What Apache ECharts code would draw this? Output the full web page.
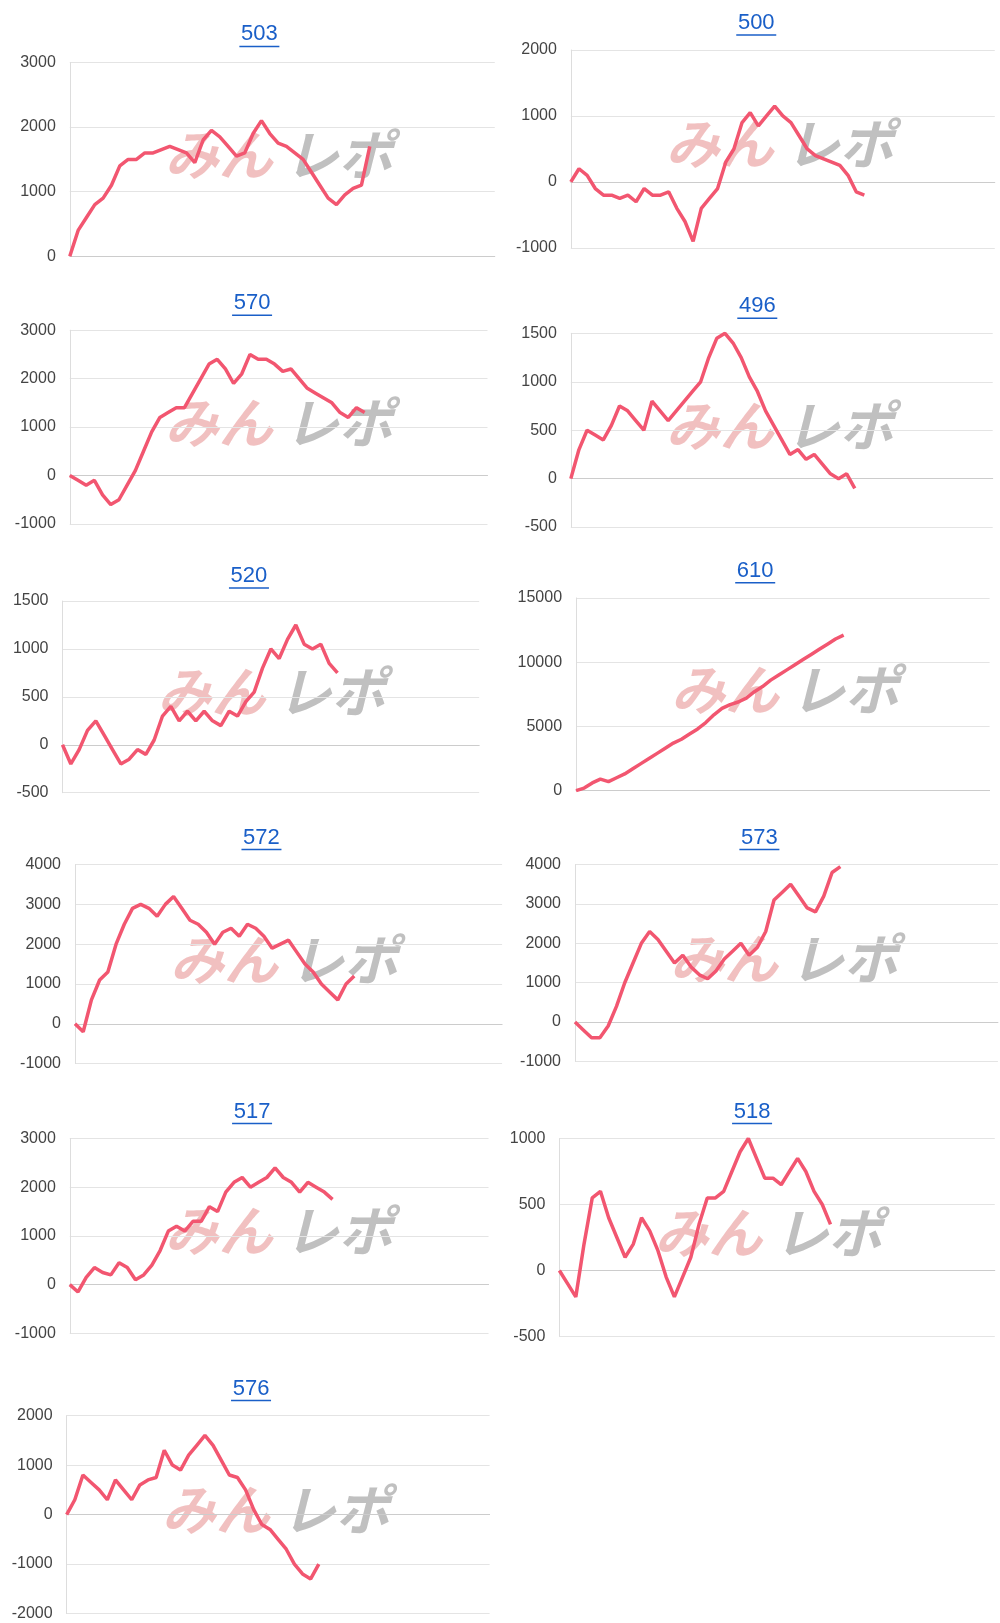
<!DOCTYPE html>
<html><head><meta charset="utf-8">
<script src="https://cdn.jsdelivr.net/npm/echarts@6/dist/echarts.min.js"></script>
<style>html,body{margin:0;padding:0;background:#fff}#c{width:1000px;height:1623px}</style>
</head><body><div id="c"></div>
<script>
// titles
const titles = ['503','500','570','496','520','610','572','573','517','518','576'];
// series values (sampled left to right)
const v503 = [0,400,600,800,900,1100,1400,1500,1500,1600,1600,1650,1700,1650,1600,1450,1800,1950,1850,1700,1550,1600,1900,2100,1900,1750,1700,1600,1500,1300,1100,900,800,950,1050,1100,1700];
const v500 = [0,200,100,-100,-200,-200,-250,-200,-300,-100,-200,-200,-150,-400,-600,-900,-400,-250,-100,300,500,900,1050,850,1000,1150,1000,900,700,500,400,350,300,250,100,-150,-200];
const v570 = [0,-100,-200,-100,-400,-600,-500,-200,100,500,900,1200,1300,1400,1400,1700,2000,2300,2400,2200,1900,2100,2500,2400,2400,2300,2150,2200,2000,1800,1700,1600,1500,1300,1200,1400,1300];
const v496 = [0,300,500,450,400,550,750,700,600,500,800,700,600,700,800,900,1000,1250,1450,1500,1400,1250,1050,900,700,550,400,250,300,200,250,150,50,0,50,-100];
const v520 = [0,-200,-50,150,250,100,-50,-200,-150,-50,-100,50,300,400,250,350,250,350,250,200,350,300,450,550,800,1000,900,1100,1250,1050,1000,1050,850,750];
const v610 = [0,200,600,900,700,1000,1300,1700,2100,2500,2900,3300,3700,4000,4400,4800,5300,5900,6400,6700,6900,7200,7700,8100,8600,9000,9400,9800,10200,10600,11000,11400,11800,12100];
const v572 = [0,-200,600,1100,1300,2000,2500,2900,3000,2900,2700,3000,3200,2900,2600,2500,2300,2000,2300,2400,2200,2500,2400,2200,1900,2000,2100,1800,1500,1300,1000,800,600,1000,1200];
const v573 = [0,-200,-400,-400,-100,400,1000,1500,2000,2300,2100,1800,1500,1700,1400,1200,1100,1300,1600,1800,2000,1700,1900,2300,3100,3300,3500,3200,2900,2800,3200,3800,3950];
const v517 = [0,-150,150,350,250,200,450,350,100,200,400,700,1100,1200,1100,1300,1300,1600,1500,1900,2100,2200,2000,2100,2200,2400,2200,2100,1900,2100,2000,1900,1750];
const v518 = [0,-100,-200,200,550,600,400,250,100,200,400,300,150,-50,-200,-50,100,350,550,550,600,750,900,1000,850,700,700,650,750,850,750,600,500,350];
const v576 = [0,300,800,650,500,300,700,500,300,600,700,750,1300,1000,900,1200,1400,1600,1400,1100,800,750,500,100,-200,-300,-500,-700,-1000,-1200,-1300,-1000];
// y axis ranges [min,max,interval]
const yr = [[0,3000,1000],[-1000,2000,1000],[-1000,3000,1000],[-500,1500,500],[-500,1500,500],[0,15000,5000],[-1000,4000,1000],[-1000,4000,1000],[-1000,3000,1000],[-500,1000,500],[-2000,2000,1000]];
const vals=[v503,v500,v570,v496,v520,v610,v572,v573,v517,v518,v576];

// layout (measured at 0.96 scale): [left, top, right, bottom, lineEndX, titleY, titleX]
const S=1/0.96;
const L=[[67,60,475,246,353,33,249],[548,48,955,238,832,22,726],[67,317,468,503,352,291,242],[548,320,953,506,822,294,727],
[60,577,460,761,324,553,239],[553,574,950,759,812,548,725],[72,830,482,1021,338,804,251],[552,830,958,1019,808,804,729],
[67,1093,469,1280,320,1067,242],[537,1093,955,1283,795,1067,722],[64,1359,470,1549,308,1333,241]].map(a=>a.map(x=>x*S));

const grid=[],xAxis=[],yAxis=[],series=[],graphic=[];
L.forEach((p,i)=>{
  const [l,t,r,b,e,ty,tx]=p, v=vals[i], n=v.length;
  const total=Math.round((n-1)*(r-l)/(e-l))+1;
  grid.push({left:l,top:t,width:r-l,height:b-t});
  xAxis.push({type:'category',gridIndex:i,boundaryGap:false,data:Array.from({length:total},(_,k)=>k),
    axisLine:{show:true,lineStyle:{color:'#ccc'}},axisTick:{show:false},axisLabel:{show:false}});
  yAxis.push({type:'value',gridIndex:i,min:yr[i][0],max:yr[i][1],interval:yr[i][2],
    axisLine:{show:true,lineStyle:{color:'#ddd'}},axisTick:{show:false},
    splitLine:{lineStyle:{color:'#e4e4e4'}},
    axisLabel:{color:'#444',fontSize:16,fontFamily:'Liberation Sans',formatter:x=>String(x),margin:14}});
  graphic.push({type:'text',x:tx,y:ty,style:{text:titles[i],font:'22px "Liberation Sans"',fill:'#1a5fc8',textAlign:'center',textVerticalAlign:'middle'}});
  graphic.push({type:'line',shape:{x1:tx-20,y1:ty+12,x2:tx+20,y2:ty+12},style:{stroke:'#1a5fc8',lineWidth:1.5}});
  const my=(t+b)/2-5;
  graphic.push({type:'text',x:l+95,y:my,z:0,style:{text:'みん',font:'italic bold 54px "Noto Sans CJK JP"',fill:'rgba(230,140,140,0.55)',textVerticalAlign:'middle'}});
  graphic.push({type:'text',x:l+215,y:my,z:0,style:{text:'レポ',font:'italic bold 54px "Noto Sans CJK JP"',fill:'rgba(150,150,150,0.6)',textVerticalAlign:'middle'}});
  series.push({type:'line',xAxisIndex:i,yAxisIndex:i,data:v,showSymbol:false,z:5,
    lineStyle:{color:'#f25670',width:3.5}});
});
const chart=echarts.init(document.getElementById('c'));
chart.setOption({animation:false,grid,xAxis,yAxis,series,graphic});
</script></body></html>
